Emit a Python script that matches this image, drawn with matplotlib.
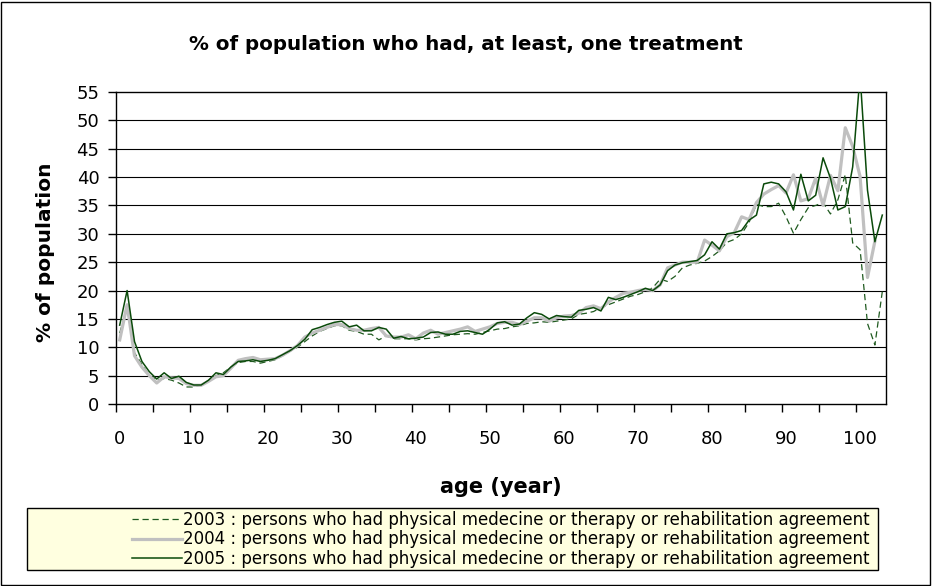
import numpy as np
import matplotlib
matplotlib.use("Agg")
import matplotlib.pyplot as plt
from matplotlib.patches import Rectangle
from matplotlib.lines import Line2D

plt.rcParams['font.family'] = ['DejaVu Sans']

ages = list(range(0, 104))

y2003 = [12.5, 17.0, 9.0, 7.0, 5.0, 4.2, 4.5, 4.2, 3.7, 3.0,
         3.0, 3.3, 4.0, 5.0, 5.5, 6.5, 7.3, 7.5, 7.5, 7.2,
         7.5, 7.8, 8.5, 9.3, 10.0, 11.0, 12.0, 12.8, 13.3, 13.8,
         13.8, 13.0, 12.8, 12.3, 12.3, 11.3, 12.0, 11.5, 11.5, 11.5,
         11.3, 11.5, 11.6, 11.8, 12.0, 12.2, 12.3, 12.4, 12.3, 12.6,
         12.9, 13.2, 13.3, 13.6, 13.8, 14.2, 14.3, 14.5, 14.4, 14.6,
         14.8, 15.0, 15.8, 16.0, 16.3, 17.0, 17.5, 18.0, 18.5, 19.0,
         19.3, 19.8, 20.5, 22.0, 21.6, 22.5, 24.0, 24.5, 24.8, 25.2,
         26.0, 27.0, 28.5, 29.0, 30.0, 32.0, 35.2, 34.8, 34.8, 35.4,
         33.0, 30.1, 32.5, 34.6, 35.0, 35.5, 33.5, 36.0, 40.4, 28.4,
         27.2, 14.2, 10.4, 19.8]

y2004 = [11.3, 17.5, 8.5, 6.5, 5.0, 3.7, 4.8, 4.6, 4.5, 3.6,
         3.3, 3.3, 4.0, 4.8, 5.0, 6.3, 7.7, 8.0, 8.2, 7.8,
         7.9, 8.0, 8.6, 9.4, 10.3, 11.8, 12.5, 13.0, 13.5, 14.0,
         14.0, 13.3, 13.0, 13.0, 13.3, 13.5, 12.0, 11.8, 11.8, 12.2,
         11.5, 12.5, 13.0, 12.3, 12.6, 12.9, 13.2, 13.6, 12.8, 13.2,
         13.6, 14.2, 14.4, 14.4, 14.0, 14.6, 15.2, 15.2, 14.6, 15.2,
         15.5, 15.6, 16.0, 17.0, 17.3, 16.8, 18.0, 18.8, 19.5, 19.7,
         20.0, 20.2, 20.0, 21.0, 24.0, 24.5, 25.0, 25.0, 25.0, 28.9,
         28.0, 27.0, 29.5, 30.2, 33.0, 32.5, 35.5, 37.0, 37.8, 38.5,
         37.2, 40.4, 35.8, 36.2, 39.8, 35.0, 40.3, 37.6, 48.7, 45.4,
         40.1, 22.3, 28.7, np.nan]

y2005 = [13.9, 20.0, 11.0, 7.5, 5.7, 4.4, 5.5, 4.5, 4.9, 3.8,
         3.35, 3.35, 4.2, 5.5, 5.2, 6.5, 7.5, 7.6, 7.8, 7.5,
         7.7, 8.0, 8.7, 9.4, 10.3, 11.4, 13.1, 13.5, 14.0, 14.4,
         14.6, 13.6, 13.9, 12.9, 12.9, 13.5, 13.2, 11.6, 11.9, 11.5,
         11.6, 11.8, 12.6, 12.7, 12.3, 12.3, 12.8, 12.9, 12.6, 12.3,
         13.2, 14.3, 14.5, 13.9, 14.1, 15.2, 16.1, 15.8, 15.0, 15.6,
         15.4, 15.3, 16.5, 16.7, 17.0, 16.4, 18.8, 18.4, 18.8, 19.3,
         19.8, 20.4, 20.0, 21.0, 23.5, 24.5, 24.9, 25.1, 25.3, 26.3,
         28.6, 27.3, 30.0, 30.2, 30.6, 32.4, 33.3, 38.8, 39.1, 38.8,
         37.4, 34.2, 40.5, 35.8, 36.8, 43.4, 39.8, 34.2, 34.8, 41.8,
         58.0, 37.7, 28.6, 33.3]

labels = ["2003 : persons who had physical medecine or therapy or rehabilitation agreement",
          "2004 : persons who had physical medecine or therapy or rehabilitation agreement",
          "2005 : persons who had physical medecine or therapy or rehabilitation agreement"]

title = "% of population who had, at least, one treatment"
xlabel = "age (year)"
ylabel = "% of population"
x_tick_labels = [str(v) for v in range(0, 101, 10)]

W, H = 932, 586
fig = plt.figure(figsize=(W / 100, H / 100), dpi=100)
fig.patch.set_facecolor('white')

# outer border
fig.add_artist(Rectangle((1 / W, 1 / H), (W - 3) / W, (H - 3) / H, transform=fig.transFigure,
                         fill=False, edgecolor='black', linewidth=1.0))

ax = fig.add_axes([116 / W, (H - 404) / H, (886 - 116) / W, (404 - 92) / H])
ax.set_xlim(-0.5, 103.5)
ax.set_ylim(0, 55)

for v in range(5, 55, 5):
    ax.axhline(v, color='black', linewidth=0.8, zorder=1)

x = np.array(ages)
ax.plot(x, y2003, color='#1f5a1f', linewidth=0.9, linestyle=(0, (5, 3)), zorder=2, clip_on=True)
ax.plot(x, y2004, color='#c0c0c0', linewidth=2.3, zorder=3, clip_on=True)
ax.plot(x, y2005, color='#0a4a0a', linewidth=1.1, zorder=4, clip_on=True)

# y axis
ax.set_yticks(range(0, 56, 5))
ax.set_yticklabels([str(v) for v in range(0, 56, 5)], fontsize=13)
ax.tick_params(axis='y', direction='out', length=6, width=1, pad=6)

# x axis: tick marks at category boundaries, labels at centers
ax.set_xticks(np.arange(-0.5, 100, 5))
ax.set_xticklabels([])
ax.tick_params(axis='x', which='major', direction='out', length=5.5, width=1)
ax.set_xticks(np.arange(0, 101, 10), minor=True)
ax.set_xticklabels(x_tick_labels, minor=True, fontsize=13)
ax.tick_params(axis='x', which='minor', length=0, pad=19)

for s in ax.spines.values():
    s.set_linewidth(1.0)
    s.set_color('black')

fig.text(466 / W, 1 - 45 / H, title, ha='center', va='center',
         fontsize=14.3, fontweight='bold')
fig.text(0.5 * (116 + 886) / W, 1 - 487 / H, xlabel, ha='center', va='center',
         fontsize=15, fontweight='bold')
fig.text(46 / W, 1 - 252 / H, ylabel, ha='center', va='center', rotation=90,
         fontsize=14.5, fontweight='bold')

# legend box
fig.add_artist(Rectangle((27 / W, 1 - 570 / H), (878 - 27) / W, (570 - 508) / H,
                         transform=fig.transFigure, facecolor='#ffffe0',
                         edgecolor='black', linewidth=1.0, zorder=0))
handles = [Line2D([], [], color='#1f5a1f', linewidth=0.9, linestyle=(0, (5, 3))),
           Line2D([], [], color='#c0c0c0', linewidth=2.3),
           Line2D([], [], color='#0a4a0a', linewidth=1.1)]
leg = fig.legend(handles, labels, loc='center right', bbox_to_anchor=(870 / W, 1 - 539.5 / H),
                 frameon=False, fontsize=12, handlelength=3.0, handletextpad=0.1,
                 labelspacing=0.1, borderpad=0, borderaxespad=0)

fig.savefig('out.png', dpi=100)
